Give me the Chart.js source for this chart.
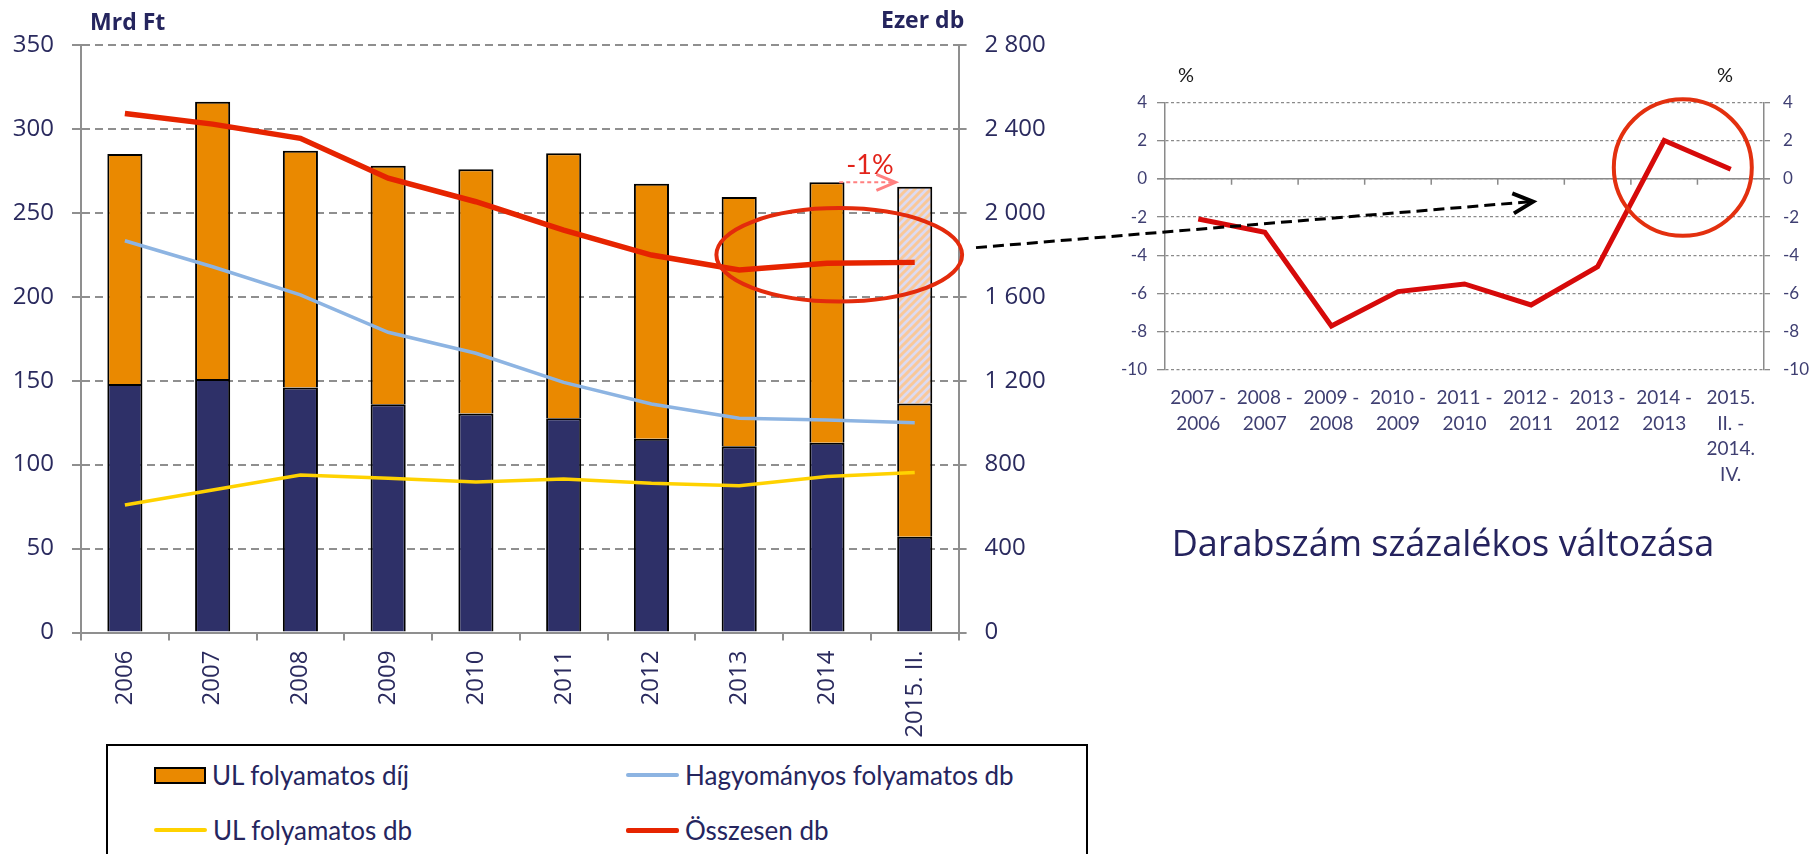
<!DOCTYPE html>
<html lang="hu">
<head>
<meta charset="utf-8">
<title>Folyamatos díjas szerződések</title>
<script src="https://cdn.jsdelivr.net/npm/chart.js@4.4.1/dist/chart.umd.min.js"></script>
<style>
  html, body { margin: 0; padding: 0; background: #fff; }
  body { position: relative; width: 1812px; height: 854px; overflow: hidden; font-family: "Open Sans", sans-serif; }
  canvas { position: absolute; }
  #leftChart { left: 0; top: 0; }
  #rightChart { left: 965px; top: 0; }
  .unit { position: absolute; font-weight: bold; font-size: 23px; color: #25255e; line-height: 30px; }
  .pct { position: absolute; font-family: Lato, sans-serif; font-size: 20px; color: #1a1a1a; line-height: 24px; }
  #title2 { position: absolute; left: 1093px; top: 518px; width: 700px; text-align: center; font-size: 36px; line-height: 50px; color: #25235e; }
  #legend { position: absolute; left: 106px; top: 744px; width: 982px; height: 160px; border: 2px solid #000; box-sizing: border-box; }
  .lg { position: absolute; display: flex; align-items: center; height: 40px; font-family: Lato, sans-serif; font-size: 26px; color: #25255e; white-space: nowrap; }
  .sw { margin-right: 6px; box-sizing: border-box; }
</style>
</head>
<body>
<canvas id="leftChart" width="1080" height="744"></canvas>
<canvas id="rightChart" width="847" height="600"></canvas>
<div class="unit" style="left:90px; top:6px;">Mrd Ft</div>
<div class="unit" style="left:881px; top:4px;">Ezer db</div>
<div class="pct" style="left:1178px; top:62px;">%</div>
<div class="pct" style="left:1717px; top:62px;">%</div>
<div id="title2">Darabszám százalékos változása</div>
<div id="legend"></div>
<script>
// ---------- adatok ----------
const years = ['2006', '2007', '2008', '2009', '2010', '2011', '2012', '2013', '2014', '2015. II.'];
// díjak, Mrd Ft
const hagyDij = [148, 151, 146, 136, 130.4, 127.6, 115.5, 110.9, 113.1, 57.1];
const ulDij = [137, 165.2, 141, 142.1, 145.6, 157.9, 151.9, 148.5, 155.1, 79.4];
const becsles = [null, null, null, null, null, null, null, null, null, 129.1];
// darabszám, ezer db
const hagyDb = [1867, 1743, 1609, 1431, 1331, 1192, 1089, 1021, 1013, 1000];
const ulDb = [608, 679, 751, 735, 717, 732, 711, 700, 743, 762];
const osszDb = [2474, 2423, 2355, 2165, 2053, 1918, 1799, 1728, 1760, 1764];

// darabszám százalékos változása
const changeLabels = [
  ['2007 -', '2006'], ['2008 -', '2007'], ['2009 -', '2008'], ['2010 -', '2009'],
  ['2011 -', '2010'], ['2012 -', '2011'], ['2013 -', '2012'], ['2014 -', '2013'],
  ['2015.', 'II. -', '2014.', 'IV.']
];
const changePct = [-2.1, -2.8, -7.7, -5.9, -5.5, -6.6, -4.6, 2.0, 0.5];

const navyText = '#2a2a5e';
const gridGray = '#8f8f8f';

function spaced(v) {
  return String(v).replace(/\B(?=(\d{3})+(?!\d))/g, ' ');
}

function hatch(ctx) {
  const c = document.createElement('canvas');
  c.width = 8; c.height = 8;
  const g = c.getContext('2d');
  g.fillStyle = '#dcdbf2';
  g.fillRect(0, 0, 8, 8);
  g.strokeStyle = '#f9c898';
  g.lineWidth = 3;
  g.beginPath();
  g.moveTo(-2, 10); g.lineTo(10, -2);
  g.moveTo(-2, 2); g.lineTo(2, -2);
  g.moveTo(6, 10); g.lineTo(10, 6);
  g.stroke();
  return ctx.createPattern(c, 'repeat');
}

function chevron(ctx, x0, y0, x1, y1, len, half) {
  const a = Math.atan2(y1 - y0, x1 - x0);
  const bx = x1 - len * Math.cos(a), by = y1 - len * Math.sin(a);
  const px = -Math.sin(a) * half, py = Math.cos(a) * half;
  ctx.beginPath();
  ctx.moveTo(bx + px, by + py);
  ctx.lineTo(x1, y1);
  ctx.lineTo(bx - px, by - py);
  ctx.stroke();
}

//------------bal oldali ábra------------
const leftNotes = {
  id: 'leftNotes',
  afterDatasetsDraw(chart) {
    const { ctx, scales: { x, y, y1 } } = chart;
    const step = x.getPixelForValue(1) - x.getPixelForValue(0);
    ctx.save();
    // ellipszis a 2013-2015 darabszám körül
    ctx.strokeStyle = '#e32b0c';
    ctx.lineWidth = 4;
    ctx.beginPath();
    ctx.ellipse(x.getPixelForValue(8.14), y1.getPixelForValue(1800), step * 1.4, 46.7, 0, 0, Math.PI * 2);
    ctx.stroke();
    // -1% nyíl
    const t14 = hagyDij[8] + ulDij[8];
    const t15 = hagyDij[9] + ulDij[9] + becsles[9];
    const ay = y.getPixelForValue(t14);
    const ax0 = x.getPixelForValue(8.14), ax1 = x.getPixelForValue(8.78);
    ctx.strokeStyle = '#ff8080';
    ctx.lineWidth = 2;
    ctx.setLineDash([4, 3]);
    ctx.beginPath();
    ctx.moveTo(ax0, ay); ctx.lineTo(ax1 - 2, ay);
    ctx.stroke();
    ctx.setLineDash([]);
    ctx.lineWidth = 3;
    chevron(ctx, ax0, ay, ax1, ay, 19, 8);
    ctx.fillStyle = '#e2231a';
    ctx.font = '27px Lato';
    ctx.textAlign = 'center';
    ctx.textBaseline = 'middle';
    ctx.fillText(Math.round((t15 / t14 - 1) * 100) + '%', x.getPixelForValue(8.49), y.getPixelForValue(278.5));
    ctx.restore();
  }
};

const leftCtx = document.getElementById('leftChart').getContext('2d');
const tickFont = { family: 'Open Sans', size: 24 };

const leftChart = new Chart(leftCtx, {
  type: 'bar',
  data: {
    labels: years,
    datasets: [
      { label: 'Hagyományos folyamatos díj', data: hagyDij, backgroundColor: '#2e3068', borderColor: '#000', borderWidth: 2, yAxisID: 'y', order: 2, legend: false },
      { label: 'UL folyamatos díj', data: ulDij, backgroundColor: '#ea8900', borderColor: '#000', borderWidth: 2, yAxisID: 'y', order: 2 },
      { label: 'Becslés', data: becsles, backgroundColor: hatch(leftCtx), borderColor: '#000', borderWidth: 2, yAxisID: 'y', order: 2, legend: false },
      { type: 'line', label: 'Hagyományos folyamatos db', data: hagyDb, borderColor: '#8db4e2', borderWidth: 3.5, pointRadius: 0, yAxisID: 'y1', order: 1 },
      { type: 'line', label: 'UL folyamatos db', data: ulDb, borderColor: '#ffd200', borderWidth: 3.5, pointRadius: 0, yAxisID: 'y1', order: 1 },
      { type: 'line', label: 'Összesen db', data: osszDb, borderColor: '#e62400', borderWidth: 5.5, pointRadius: 0, yAxisID: 'y1', order: 0 }
    ]
  },
  options: {
    responsive: false,
    animation: false,
    barPercentage: 0.4,
    categoryPercentage: 1,
    layout: { padding: { top: 45, left: 0, right: 0, bottom: 0 } },
    plugins: { legend: { display: false }, tooltip: { enabled: false } },
    scales: {
      x: {
        stacked: true,
        grid: { offset: true, drawOnChartArea: false, tickLength: 8, color: gridGray, lineWidth: 2 },
        border: { color: gridGray, width: 2 },
        ticks: { minRotation: 90, maxRotation: 90, autoSkip: false, padding: 10, color: navyText, font: tickFont },
        afterFit: (s) => { s.height = 111.5; }
      },
      y: {
        stacked: true,
        min: 0, max: 350,
        ticks: { stepSize: 50, padding: 18, color: navyText, font: tickFont },
        grid: { color: gridGray, lineWidth: 2, tickLength: 9 },
        border: { color: gridGray, width: 2, dash: [8, 5] },
        afterFit: (s) => { s.width = 81; }
      },
      y1: {
        position: 'right',
        min: 0, max: 2800,
        ticks: { stepSize: 400, padding: 18, color: navyText, font: tickFont, callback: (v) => spaced(v) },
        grid: { drawOnChartArea: false, tickLength: 8, color: gridGray, lineWidth: 2 },
        border: { color: gridGray, width: 2 },
        afterFit: (s) => { s.width = 121.4; }
      }
    }
  },
  plugins: [leftNotes]
});

//------------jelmagyarázat------------
const legendBox = document.getElementById('legend');
leftChart.data.datasets.filter((d) => d.legend !== false).forEach((d, i) => {
  const item = document.createElement('div');
  item.className = 'lg';
  item.style.left = (46 + (i % 2) * 472) + 'px';
  item.style.top = (9 + Math.floor(i / 2) * 55) + 'px';
  const sw = document.createElement('span');
  sw.className = 'sw';
  if (d.type === 'line') {
    sw.style.width = '53px';
    sw.style.height = (d.borderWidth > 4 ? 5 : 4) + 'px';
    sw.style.background = d.borderColor;
    sw.style.borderRadius = '2px';
  } else {
    sw.style.width = '52px';
    sw.style.height = '17px';
    sw.style.background = d.backgroundColor;
    sw.style.border = '2px solid #000';
  }
  item.appendChild(sw);
  item.appendChild(document.createTextNode(d.label));
  legendBox.appendChild(item);
});

//------------jobb oldali ábra------------
const axisGray = '#8a8a8a';
const rightNotes = {
  id: 'rightNotes',
  beforeDatasetsDraw(chart) {
    const { ctx, chartArea, scales: { x, y } } = chart;
    const y0 = y.getPixelForValue(0);
    ctx.save();
    ctx.strokeStyle = axisGray;
    ctx.lineWidth = 1.5;
    ctx.beginPath();
    ctx.moveTo(chartArea.left - 8, y0);
    ctx.lineTo(chartArea.right + 6, y0);
    for (let i = 1; i < changePct.length; i++) {
      const xb = (x.getPixelForValue(i - 1) + x.getPixelForValue(i)) / 2;
      ctx.moveTo(xb, y0);
      ctx.lineTo(xb, y0 + 6);
    }
    ctx.stroke();
    ctx.restore();
  },
  afterDatasetsDraw(chart) {
    const { ctx, chartArea, scales: { x, y } } = chart;
    ctx.save();
    // kör a 2014-2015 értékek körül
    ctx.strokeStyle = '#e3300f';
    ctx.lineWidth = 4;
    ctx.beginPath();
    ctx.ellipse(x.getPixelForValue(7.28), y.getPixelForValue(0.59), 69, 68.3, 0, 0, Math.PI * 2);
    ctx.stroke();
    // szaggatott nyíl a bal ábráról
    const sx = chartArea.left - 189, sy = y.getPixelForValue(-3.6);
    const ex = x.getPixelForValue(5.03), ey = y.getPixelForValue(-1.2);
    ctx.strokeStyle = '#000';
    ctx.lineWidth = 3;
    ctx.setLineDash([11, 6]);
    ctx.beginPath();
    ctx.moveTo(sx, sy);
    ctx.lineTo(ex - 3, ey);
    ctx.stroke();
    ctx.setLineDash([]);
    ctx.lineWidth = 4;
    chevron(ctx, sx, sy, ex, ey, 20, 10);
    ctx.restore();
  }
};

const rightTickColor = '#3f3f72';
new Chart(document.getElementById('rightChart'), {
  type: 'line',
  data: {
    labels: changeLabels,
    datasets: [
      { label: 'Darabszám százalékos változása', data: changePct, borderColor: '#d60a0a', borderWidth: 5, pointRadius: 0, tension: 0, yAxisID: 'y' }
    ]
  },
  options: {
    responsive: false,
    animation: false,
    layout: { padding: { top: 102.3, left: 0, right: 0, bottom: 0 } },
    plugins: { legend: { display: false }, tooltip: { enabled: false } },
    scales: {
      x: {
        offset: true,
        grid: { display: false, drawTicks: false },
        border: { display: false },
        ticks: { autoSkip: false, minRotation: 0, maxRotation: 0, padding: 15, color: rightTickColor, font: { family: 'Lato', size: 19, lineHeight: 1.35 } },
        afterFit: (s) => { s.height = 230; }
      },
      y: {
        min: -10, max: 4,
        ticks: { stepSize: 2, padding: 10, color: rightTickColor, font: { family: 'Lato', size: 17 } },
        grid: { color: axisGray, lineWidth: 1.3, tickLength: 8 },
        border: { color: axisGray, width: 1.5, dash: [3, 2.5] },
        afterFit: (s) => { s.width = 200; }
      },
      y1: {
        position: 'right',
        min: -10, max: 4,
        ticks: { stepSize: 2, padding: 13, color: rightTickColor, font: { family: 'Lato', size: 17 } },
        grid: { drawOnChartArea: false, tickLength: 6, color: axisGray, lineWidth: 1.3 },
        border: { color: axisGray, width: 1.5 },
        afterFit: (s) => { s.width = 48; }
      }
    }
  },
  plugins: [rightNotes]
});
</script>
</body>
</html>
